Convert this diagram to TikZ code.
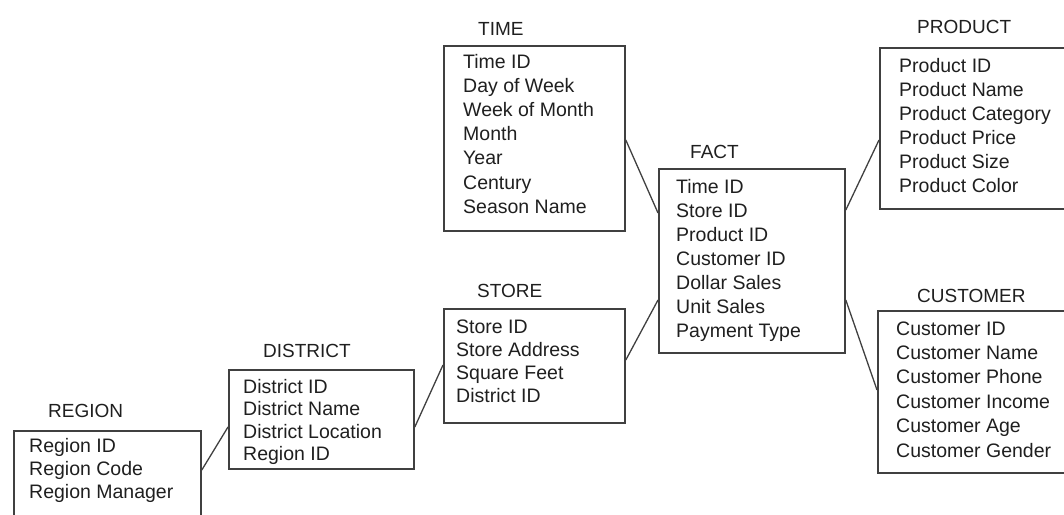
\documentclass[tikz,border=0pt]{standalone}
\usepackage{fontspec}
\setmainfont{Liberation Sans}
\usetikzlibrary{calc}
\definecolor{ink}{gray}{0.12}
\definecolor{rule}{gray}{0.25}
\begin{document}
\begin{tikzpicture}[x=1pt,y=-1pt,
  tablebox/.style={draw=rule, line width=1.8pt, fill=none, inner sep=0pt, anchor=north west},
  field/.style={anchor=base west, inner sep=0pt, text=ink, font=\fontsize{19.5}{24}\selectfont},
  title/.style={anchor=base west, inner sep=0pt, text=ink, font=\fontsize{19}{23}\selectfont},
  link/.style={draw=rule, line width=1.3pt}]
\useasboundingbox (0,0) rectangle (1064,514);

% table outlines
\node[tablebox, minimum width=187pt, minimum height=92pt]  (region)   at (13,430)  {};
\node[tablebox, minimum width=185pt, minimum height=99pt]  (district) at (228,369) {};
\node[tablebox, minimum width=181pt, minimum height=114pt] (store)    at (443,308) {};
\node[tablebox, minimum width=181pt, minimum height=185pt] (time)     at (443,45)  {};
\node[tablebox, minimum width=186pt, minimum height=184pt] (fact)     at (658,168) {};
\node[tablebox, minimum width=230pt, minimum height=161pt] (product)  at (879,47)  {};
\node[tablebox, minimum width=230pt, minimum height=162pt] (customer) at (877,310) {};

% table titles
\node[title] (region-t)   at (48,417)  {REGION};
\node[title] (district-t) at (263,357) {DISTRICT};
\node[title] (store-t)    at (477,297) {STORE};
\node[title] (time-t)     at (478,35)  {TIME};
\node[title] (fact-t)     at (690,158) {FACT};
\node[title] (product-t)  at (917,33)  {PRODUCT};
\node[title] (customer-t) at (917,302) {CUSTOMER};

% table fields
\foreach [count=\i] \t in {Region ID, Region Code, Region Manager}
  \node[field] (region-\i) at (29,{452+23*(\i-1)}) {\t};
\foreach [count=\i] \t in {District ID, District Name, District Location, Region ID}
  \node[field] (district-\i) at (243,{393+22.5*(\i-1)}) {\t};
\foreach [count=\i] \t in {Store ID, Store Address, Square Feet, District ID}
  \node[field] (store-\i) at (456,{333+23.3*(\i-1)}) {\t};
\foreach [count=\i] \t in {Time ID, Day of Week, Week of Month, Month, Year, Century, Season Name}
  \node[field] (time-\i) at (463,{68+24.2*(\i-1)}) {\t};
\foreach [count=\i] \t in {Time ID, Store ID, Product ID, Customer ID, Dollar Sales, Unit Sales, Payment Type}
  \node[field] (fact-\i) at (676,{193+24*(\i-1)}) {\t};
\foreach [count=\i] \t in {Product ID, Product Name, Product Category, Product Price, Product Size, Product Color}
  \node[field] (product-\i) at (899,{72+24*(\i-1)}) {\t};
\foreach [count=\i] \t in {Customer ID, Customer Name, Customer Phone, Customer Income, Customer Age, Customer Gender}
  \node[field] (customer-\i) at (896,{335+24.4*(\i-1)}) {\t};

% relationships
\draw[link] ([yshift=-40pt]region.north east)   -- ([yshift=-58pt]district.north west);
\draw[link] ([yshift=-58pt]district.north east) -- ([yshift=-57pt]store.north west);
\draw[link] ([yshift=-52pt]store.north east)    -- ([yshift=-132pt]fact.north west);
\draw[link] ([yshift=-95pt]time.north east)     -- ([yshift=-45pt]fact.north west);
\draw[link] ([yshift=-42pt]fact.north east)     -- ([yshift=-93pt]product.north west);
\draw[link] ([yshift=-132pt]fact.north east)    -- ([yshift=-80pt]customer.north west);
\end{tikzpicture}
\end{document}
